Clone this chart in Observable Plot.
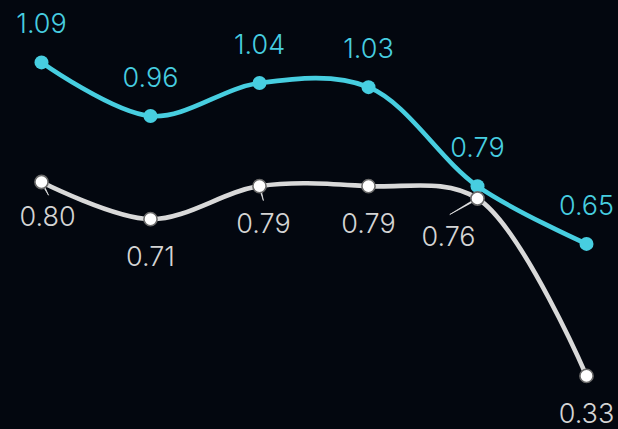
<!DOCTYPE html>
<html>
<head>
<meta charset="utf-8">
<script src="https://cdn.jsdelivr.net/npm/d3@7"></script>
<script src="https://cdn.jsdelivr.net/npm/@observablehq/plot@0.6"></script>
<style>
  html, body { margin: 0; padding: 0; background: #03070f; overflow: hidden; }
  #chart svg { display: block; }
</style>
</head>
<body>
<div id="chart"></div>
<script>
// ---- data ----
const categories = ["P1", "P2", "P3", "P4", "P5", "P6"];
const seriesA = [1.09, 0.96, 1.04, 1.03, 0.79, 0.65];
const seriesB = [0.80, 0.71, 0.79, 0.79, 0.76, 0.33];

// ---- styling / layout ----
const cyan = "#47cee0";
const grey = "#d9d9d9";
const greyText = "#d4d4d4";
const font = "Inter, 'Noto Sans', sans-serif";
const weight = 300;

const rowsA = categories.map((c, i) => ({cat: c, v: seriesA[i], i}));
const rowsB = categories.map((c, i) => ({cat: c, v: seriesB[i], i}));

// label nudges for the lower series (label-layout collision avoidance)
const nudges = {0: {dx: 6, dy: 25, len: 15, rot: 152},
                2: {dx: 4, dy: 28, len: 15, rot: 165},
                4: {dx: -29, dy: 28, len: 32, rot: 240}};

const marks = [
  Plot.line(rowsB, {x: "cat", y: "v", stroke: grey, strokeWidth: 4.6, curve: "catmull-rom"}),
  Plot.line(rowsA, {x: "cat", y: "v", stroke: cyan, strokeWidth: 4.6, curve: "catmull-rom"}),
  Plot.dot(rowsA, {x: "cat", y: "v", r: 7, fill: cyan, stroke: "none"}),
];
// leader lines
for (const k of Object.keys(nudges)) {
  const n = nudges[k];
  marks.push(Plot.vector(rowsB.filter(d => d.i === +k), {
    x: "cat", y: "v", length: n.len, rotate: n.rot, anchor: "start",
    shape: "spike", r: 0.9, stroke: "#eeeeee", fill: "#eeeeee", strokeWidth: 0.6
  }));
}
marks.push(
  Plot.dot(rowsB, {x: "cat", y: "v", r: 6.6, fill: "#ffffff", stroke: "#6a6a6a", strokeWidth: 1.6}),
  Plot.text(rowsA, {x: "cat", y: "v", text: d => d.v.toFixed(2), lineAnchor: "bottom", dy: -29,
    fill: cyan, fontSize: 27, fontFamily: font, fontWeight: weight}),
  Plot.text(rowsB.filter(d => !(d.i in nudges)), {x: "cat", y: "v", text: d => d.v.toFixed(2),
    lineAnchor: "top", dy: 28, fill: greyText, fontSize: 27, fontFamily: font, fontWeight: weight})
);
for (const k of Object.keys(nudges)) {
  const n = nudges[k];
  marks.push(Plot.text(rowsB.filter(d => d.i === +k), {x: "cat", y: "v", text: d => d.v.toFixed(2),
    lineAnchor: "top", dx: n.dx, dy: n.dy, fill: greyText, fontSize: 27, fontFamily: font, fontWeight: weight}));
}

const chart = Plot.plot({
  width: 618,
  height: 429,
  marginLeft: 40,
  marginRight: 31,
  marginTop: 0,
  marginBottom: 0,
  style: {background: "#03070f", overflow: "visible"},
  x: {type: "point", domain: categories, padding: 0, axis: null},
  y: {domain: [0.2, 1.24], axis: null},
  marks
});
document.getElementById("chart").appendChild(chart);
</script>
</body>
</html>
